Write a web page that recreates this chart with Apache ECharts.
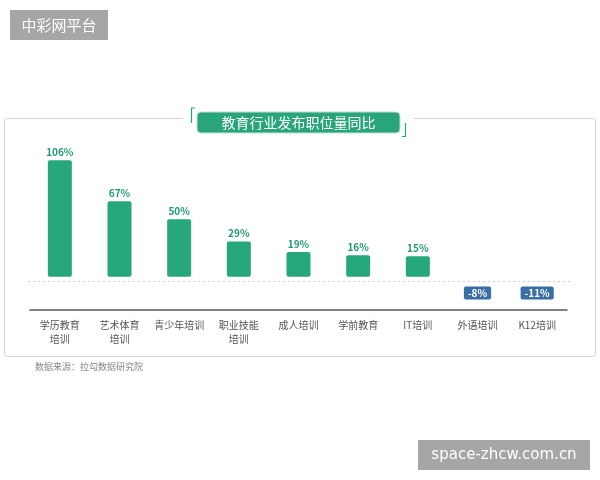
<!DOCTYPE html>
<html>
<head>
<meta charset="utf-8">
<script src="https://cdn.jsdelivr.net/npm/echarts@6/dist/echarts.min.js"></script>
<style>
  html, body { margin: 0; padding: 0; background: #fff; }
  #chart { width: 600px; height: 480px; }
</style>
</head>
<body>
<div id="chart"></div>
<script>
const categories = ['学历教育\n培训', '艺术体育\n培训', '青少年培训', '职业技能\n培训', '成人培训', '学前教育', 'IT培训', '外语培训', 'K12培训'];
const growth = [106, 67, 50, 29, 19, 16, 15, -8, -11];
const title = '教育行业发布职位量同比';
const source = '数据来源：拉勾数据研究院';

const font = '"Noto Sans CJK SC", "Noto Sans", sans-serif';
const green = '#27a77c';
const blue = '#3a6ea6';

const chart = echarts.init(document.getElementById('chart'));

function renderBar(params, api) {
  const i = api.value(0);
  const v = api.value(1);
  const base = api.coord([i, 0]);
  const top = api.coord([i, v]);
  const w = 24;
  const children = [];
  // dotted baseline, a little below zero
  if (params.dataIndex === 0) {
    const cs = params.coordSys;
    children.push({
      type: 'line',
      shape: { x1: cs.x - 2, y1: base[1] + 9.5, x2: cs.x + cs.width + 5, y2: base[1] + 9.5 },
      style: { stroke: '#cfcfcf', lineWidth: 1, lineDash: [2, 3] }
    });
  }
  if (v >= 0) {
    children.push({
      type: 'rect',
      shape: { x: base[0] - w / 2, y: top[1], width: w, height: base[1] + 4.6 - top[1], r: 2 },
      style: { fill: green }
    }, {
      type: 'text',
      x: base[0], y: top[1] - 3,
      style: {
        text: v + '%', fill: '#1f9a70', font: 'bold 10px ' + font,
        align: 'center', verticalAlign: 'bottom'
      }
    });
  } else {
    children.push({
      type: 'text',
      x: base[0], y: base[1] + 21,
      style: {
        text: v + '%', fill: '#fff', font: 'bold 10px ' + font,
        align: 'center', verticalAlign: 'middle',
        backgroundColor: blue, padding: [2, 4, 1, 4], borderRadius: 2
      }
    });
  }
  return { type: 'group', children: children };
}

const option = {
  animation: false,
  textStyle: { fontFamily: font },
  grid: { left: 30, right: 33, top: 156, height: 154 },
  xAxis: {
    type: 'category',
    data: categories,
    axisLine: { onZero: false, lineStyle: { color: '#555', width: 1.5 } },
    axisTick: { show: false },
    axisLabel: { color: '#555', fontSize: 10, lineHeight: 14, margin: 8, interval: 0 }
  },
  yAxis: {
    type: 'value', min: -36, max: 110, show: false,
    splitLine: { show: false }
  },
  graphic: [
    // outer frame
    {
      type: 'rect', z: 1,
      shape: { x: 4.5, y: 118.5, width: 591, height: 238, r: 3 },
      style: { fill: 'none', stroke: '#d2d2d2', lineWidth: 1 }
    },
    {
      type: 'rect', z: 2,
      shape: { x: 183, y: 115, width: 231, height: 8 },
      style: { fill: '#fff' }
    },
    // title brackets
    {
      type: 'polyline', z: 3,
      shape: { points: [[195, 108], [191.5, 108], [191.5, 123]] },
      style: { stroke: green, lineWidth: 1.2, fill: 'none' }
    },
    {
      type: 'polyline', z: 3,
      shape: { points: [[405.5, 123], [405.5, 136.5], [402, 136.5]] },
      style: { stroke: green, lineWidth: 1.2, fill: 'none' }
    },
    // title box
    {
      type: 'rect', z: 3,
      shape: { x: 197, y: 112, width: 203, height: 21, r: 4 },
      style: { fill: '#2aa57b', stroke: '#bfe3d2', lineWidth: 1 }
    },
    {
      type: 'text', z: 4, x: 298.5, y: 123,
      style: {
        text: title, fill: '#fff', font: '14px ' + font,
        align: 'center', verticalAlign: 'middle'
      }
    },
    // source
    {
      type: 'text', z: 4, x: 35, y: 367,
      style: { text: source, fill: '#888', font: '9px ' + font, verticalAlign: 'middle' }
    },
    // watermarks
    {
      type: 'rect', z: 5,
      shape: { x: 10, y: 10, width: 98, height: 30 },
      style: { fill: '#a6a6a6' }
    },
    {
      type: 'text', z: 6, x: 59, y: 25.5,
      style: { text: '中彩网平台', fill: '#fff', font: '15px ' + font, align: 'center', verticalAlign: 'middle' }
    },
    {
      type: 'rect', z: 5,
      shape: { x: 418, y: 440, width: 172, height: 30 },
      style: { fill: '#a6a6a6' }
    },
    {
      type: 'text', z: 6, x: 504, y: 455.5,
      style: { text: 'space-zhcw.com.cn', fill: '#fff', font: '15px "DejaVu Sans", sans-serif', align: 'center', verticalAlign: 'middle' }
    }
  ],
  series: [
    {
      type: 'custom',
      renderItem: renderBar,
      data: growth.map((v, i) => [i, v]),
      encode: { x: 0, y: 1 }
    }
  ]
};

chart.setOption(option);
</script>
</body>
</html>
